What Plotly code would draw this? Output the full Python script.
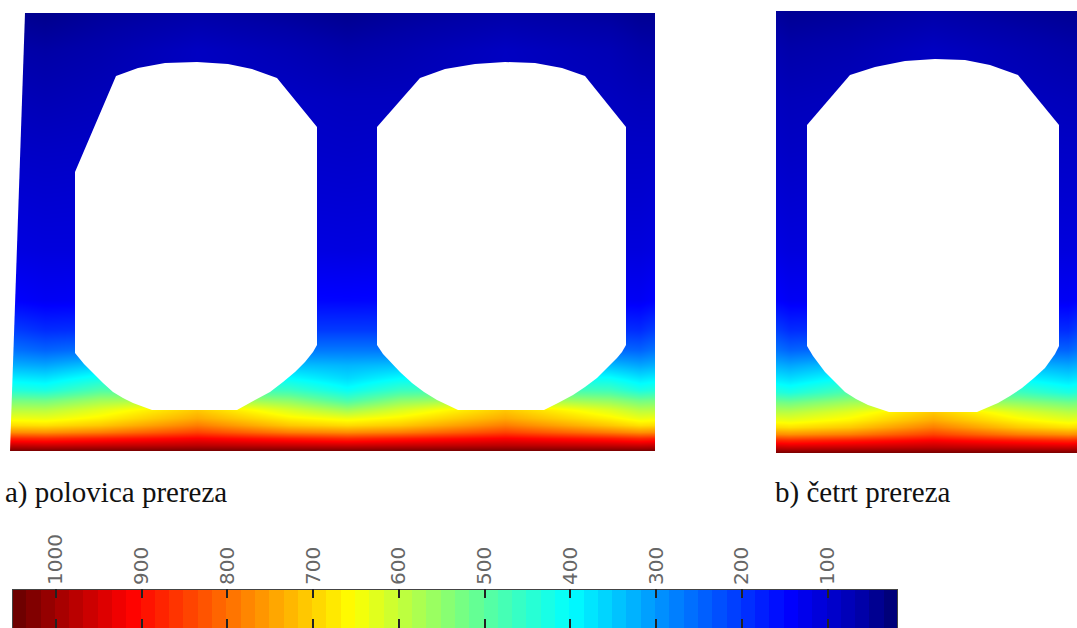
import plotly.graph_objects as go
import numpy as np

W, H = 1077, 628
FONT_SERIF = "Liberation Serif"

# colour scale: temperature -> colour
scale_temps = [18, 60, 145, 300, 400, 500, 654, 800, 912, 1000, 1051]
scale_colors = ["#00006e", "#0000a8", "#0000ff", "#0096ff", "#00ffff", "#5aff9e",
                "#ffff00", "#ff6e00", "#ff0000", "#a00000", "#640000"]
T_MIN, T_MAX = 18, 1051

bar_ticks = [1000, 900, 800, 700, 600, 500, 400, 300, 200, 100]
bar_band_count = 62
bar_frame_x = [1051, 1051, 18, 18]
bar_frame_y = [0, 1, 1, 0]

# section a) temperature field
a_x = [10, 45, 100, 197, 290, 347, 400, 505, 610, 640, 655]
a_y = [13, 50, 100, 150, 200, 250, 300, 330, 350, 365, 378, 390, 400, 410, 418, 425, 432, 438, 445, 451]
a_z = [
    [45, 40, 50, 60, 50, 42, 50, 60, 52, 45, 45],
    [62, 58, 65, 85, 72, 62, 68, 85, 72, 62, 60],
    [78, 73, 78, 88, 88, 83, 83, 88, 83, 78, 78],
    [90, 88, 90, 95, 95, 92, 95, 95, 90, 90, 90],
    [103, 100, 102, 105, 105, 103, 105, 105, 100, 100, 103],
    [116, 112, 112, 115, 118, 115, 118, 115, 112, 112, 116],
    [145, 135, 138, 140, 150, 148, 150, 140, 138, 135, 145],
    [210, 190, 195, 195, 205, 205, 205, 195, 195, 190, 210],
    [265, 248, 265, 265, 270, 270, 270, 265, 255, 248, 265],
    [325, 315, 350, 350, 340, 330, 340, 350, 335, 315, 325],
    [385, 375, 420, 420, 400, 365, 400, 420, 405, 375, 385],
    [440, 430, 490, 490, 465, 410, 465, 490, 470, 430, 440],
    [525, 520, 565, 585, 545, 480, 545, 585, 550, 520, 525],
    [590, 590, 630, 710, 620, 570, 620, 710, 625, 590, 590],
    [640, 635, 665, 740, 665, 640, 665, 740, 665, 635, 640],
    [690, 685, 710, 785, 710, 690, 710, 785, 710, 685, 690],
    [770, 765, 785, 845, 785, 770, 785, 845, 785, 765, 770],
    [875, 870, 885, 915, 885, 870, 885, 915, 885, 870, 875],
    [965, 960, 965, 975, 965, 960, 965, 975, 965, 960, 965],
    [1040, 1040, 1040, 1040, 1040, 1040, 1040, 1040, 1040, 1040, 1040],
]

# section b) temperature field
b_x = [776, 790, 850, 933, 1018, 1068, 1077]
b_y = [11, 50, 100, 150, 200, 250, 300, 330, 350, 365, 380, 392, 402, 412, 420, 427, 434, 440, 447, 453]
b_z = [
    [50, 45, 50, 60, 50, 45, 45],
    [68, 62, 68, 85, 70, 62, 62],
    [82, 78, 82, 88, 83, 78, 78],
    [92, 88, 92, 95, 92, 90, 90],
    [104, 100, 104, 105, 102, 100, 102],
    [118, 112, 114, 115, 114, 112, 115],
    [145, 135, 138, 140, 140, 135, 145],
    [210, 190, 195, 195, 195, 190, 210],
    [265, 248, 265, 265, 255, 248, 265],
    [325, 315, 350, 350, 335, 315, 325],
    [385, 375, 420, 420, 405, 375, 385],
    [440, 430, 490, 490, 470, 430, 440],
    [525, 520, 565, 585, 550, 520, 525],
    [590, 590, 630, 710, 625, 590, 590],
    [640, 635, 665, 740, 665, 635, 640],
    [690, 685, 710, 785, 710, 685, 690],
    [770, 765, 785, 845, 785, 765, 770],
    [875, 870, 885, 915, 885, 870, 875],
    [965, 960, 965, 975, 965, 960, 965],
    [1040, 1040, 1040, 1040, 1040, 1040, 1040],
]

# outlines of the openings
a_left_hole_x = [116, 138, 165, 197, 228, 252, 277, 317, 317, 313, 305, 295, 283, 270, 255, 237,
                 152, 133, 123, 113, 103, 93, 84, 75, 75, 116]
a_left_hole_y = [76, 68, 63, 62, 64, 69, 78, 127, 345, 352, 362, 372, 382, 392, 400, 410,
                 410, 403, 398, 392, 383, 373, 364, 353, 172, 76]
a_right_hole_x = [377, 420, 445, 475, 505, 535, 562, 585, 626, 626, 622, 617, 607, 597, 585, 573, 558, 544,
                  458, 437, 424, 412, 400, 390, 383, 377, 377]
a_right_hole_y = [127, 78, 69, 64, 62, 63, 68, 76, 127, 345, 352, 358, 368, 378, 387, 395, 403, 410,
                  410, 400, 392, 383, 372, 362, 354, 345, 127]
a_slant_x = [10, 25, 10, 10]
a_slant_y = [13, 13, 451, 13]
b_hole_x = [807, 850, 875, 905, 935, 965, 990, 1018, 1059, 1059, 1055, 1045, 1034, 1022, 1010, 998, 977,
            889, 868, 856, 845, 835, 825, 813, 807, 807]
b_hole_y = [125, 75, 67, 61, 59, 60, 65, 75, 125, 346, 354, 368, 378, 388, 396, 403, 412,
            412, 405, 399, 392, 382, 372, 356, 346, 125]

caption_a = "a) polovica prereza"
caption_b = "b) četrt prereza"

colorscale = [[(t - T_MIN) / (T_MAX - T_MIN), c] for t, c in zip(scale_temps, scale_colors)]
hm = dict(colorscale=colorscale, zmin=T_MIN, zmax=T_MAX, showscale=False, hoverinfo="skip")

fig = go.Figure()
fig.add_trace(go.Heatmap(x=a_x, y=a_y, z=a_z, zsmooth="best", xaxis="x", yaxis="y", **hm))
fig.add_trace(go.Heatmap(x=b_x, y=b_y, z=b_z, zsmooth="best", xaxis="x2", yaxis="y2", **hm))

def mask(xs, ys, xa, ya):
    fig.add_trace(go.Scatter(x=xs, y=ys, xaxis=xa, yaxis=ya, mode="lines", fill="toself",
                             fillcolor="white", line=dict(width=0, color="white"),
                             hoverinfo="skip", showlegend=False))

mask(a_left_hole_x, a_left_hole_y, "x", "y")
mask(a_right_hole_x, a_right_hole_y, "x", "y")
mask(a_slant_x, a_slant_y, "x", "y")
mask(b_hole_x, b_hole_y, "x2", "y2")

bar_edges = np.linspace(T_MAX, T_MIN, bar_band_count + 1)
bar_z = [(0.5 * (bar_edges[:-1] + bar_edges[1:])).tolist()]
fig.add_trace(go.Heatmap(x=bar_edges.tolist(), y=[0, 1], z=bar_z, xaxis="x3", yaxis="y3", **hm))
fig.add_trace(go.Scatter(x=bar_frame_x, y=bar_frame_y, xaxis="x3", yaxis="y3", mode="lines",
                         line=dict(color="#444", width=2), cliponaxis=False,
                         hoverinfo="skip", showlegend=False))

def dom(a, b, size):
    return [a / size, b / size]

hidden = dict(visible=False, showgrid=False, zeroline=False)
fig.update_layout(
    width=W, height=H, autosize=False,
    margin=dict(l=0, r=0, t=0, b=0),
    paper_bgcolor="white", plot_bgcolor="white",
    showlegend=False,
    xaxis=dict(domain=dom(10, 655, W), range=[10, 655], **hidden),
    yaxis=dict(domain=[1 - 451 / H, 1 - 13 / H], range=[451, 13], **hidden),
    xaxis2=dict(domain=dom(776, 1077, W), range=[776, 1077], **hidden),
    yaxis2=dict(domain=[1 - 453 / H, 1 - 11 / H], range=[453, 11], **hidden),
    xaxis3=dict(domain=dom(12, 898, W), range=[T_MAX, T_MIN], side="top",
                tickmode="array", tickvals=bar_ticks, ticktext=[str(t) for t in bar_ticks],
                ticks="inside", ticklen=9, tickwidth=1.5, tickcolor="#222",
                tickangle=-90, ticklabelstandoff=3,
                tickfont=dict(family="DejaVu Sans", size=20, color="#666"),
                showline=False, mirror="ticks",
                showgrid=False, zeroline=False, anchor="y3"),
    yaxis3=dict(domain=[0, 39 / H], range=[0, 1], showticklabels=False, ticks="",
                showline=False, showgrid=False, zeroline=False, anchor="x3"),
    annotations=[
        dict(text=caption_a, xref="paper", yref="paper", x=3 / W, y=1 - 492 / H,
             xanchor="left", yanchor="middle", showarrow=False,
             font=dict(family=FONT_SERIF, size=29, color="#111")),
        dict(text=caption_b, xref="paper", yref="paper", x=773 / W, y=1 - 492 / H,
             xanchor="left", yanchor="middle", showarrow=False,
             font=dict(family=FONT_SERIF, size=29, color="#111")),
    ],
)

fig.write_html("out.html", config=dict(displayModeBar=False),
               post_script="document.body.style.margin='0';document.documentElement.style.overflow='hidden';")
